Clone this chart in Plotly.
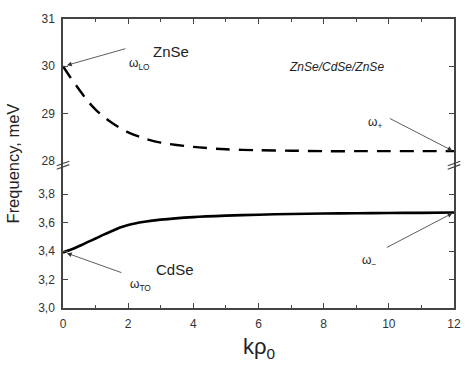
import plotly.graph_objects as go

# data
k_rho = [0, 0.25, 0.5, 0.75, 1, 1.25, 1.5, 1.75, 2, 2.5, 3, 4, 5, 6, 7, 8, 9, 10, 11, 12]
omega_plus = [30.0, 29.74, 29.5, 29.27, 29.08, 28.93, 28.8, 28.69, 28.6, 28.47, 28.38, 28.29, 28.24, 28.22, 28.21, 28.2, 28.2, 28.2, 28.2, 28.2]
omega_minus = [3.39, 3.41, 3.435, 3.462, 3.488, 3.515, 3.54, 3.565, 3.583, 3.605, 3.62, 3.638, 3.648, 3.655, 3.66, 3.663, 3.665, 3.667, 3.668, 3.67]

x_ticks = [0, 2, 4, 6, 8, 10, 12]
top_ticks = [28, 29, 30, 31]
bottom_ticks = [3.0, 3.2, 3.4, 3.6, 3.8]

FONT = "Liberation Sans, Arial, sans-serif"
AX = "#444444"

fig = go.Figure()
fig.add_trace(go.Scatter(x=k_rho, y=omega_plus, xaxis="x2", yaxis="y2", mode="lines",
                         line=dict(color="black", width=2.4, dash="14px,9px", shape="spline", smoothing=0.8),
                         showlegend=False, hoverinfo="skip"))
fig.add_trace(go.Scatter(x=k_rho, y=omega_minus, xaxis="x", yaxis="y", mode="lines",
                         line=dict(color="black", width=2.6, shape="spline", smoothing=0.8),
                         showlegend=False, hoverinfo="skip"))

split = 0.51
common_y = dict(showline=True, linecolor=AX, linewidth=1.5, ticks="inside", ticklen=5,
                tickwidth=1.2, tickcolor=AX, mirror="ticks", showgrid=False, zeroline=False,
                tickfont=dict(family=FONT, size=12, color="#333"), ticklabelstandoff=4)
common_x = dict(range=[0, 12], tickvals=x_ticks, showline=True, linecolor=AX, linewidth=1.5,
                ticks="inside", ticklen=5, tickwidth=1.2, tickcolor=AX,
                minor=dict(ticks="inside", ticklen=3, tickwidth=1, tickcolor=AX, dtick=1, tick0=0),
                showgrid=False, zeroline=False)

fig.update_layout(
    width=473, height=368,
    margin=dict(l=63, r=12, t=14, b=60),
    plot_bgcolor="white", paper_bgcolor="white",
    separators=", ",
    xaxis=dict(anchor="y", tickfont=dict(family=FONT, size=12, color="#333"),
               ticklabelstandoff=4, **common_x),
    xaxis2=dict(anchor="y2", side="top", matches="x", showticklabels=False, **common_x),
    yaxis=dict(domain=[0, split], range=[3.0, 3.0 + 150 / 145], tickvals=bottom_ticks,
               tickformat=".1f", anchor="x", **common_y),
    yaxis2=dict(domain=[split, 1], range=[28, 31], tickvals=top_ticks, anchor="x2", **common_y),
)

# axis titles
fig.add_annotation(text="kρ<sub>0</sub>", xref="paper", yref="paper", x=0.5, y=-0.14,
                   xanchor="center", yanchor="middle", showarrow=False,
                   font=dict(family=FONT, size=22, color="#222"))
fig.add_annotation(text="Frequency, meV", xref="paper", yref="paper", x=-0.128, y=0.5,
                   textangle=-90, xanchor="center", yanchor="middle", showarrow=False,
                   font=dict(family=FONT, size=16.5, color="#222"))

txt = dict(family=FONT, color="#222")
# labels
fig.add_annotation(text="ZnSe", x=3.32, y=30.31, xref="x2", yref="y2", showarrow=False, font=dict(size=15, **txt))
fig.add_annotation(text="ω<sub>LO</sub>", x=2.35, y=30.04, xref="x2", yref="y2", showarrow=False, font=dict(size=12, **txt))
fig.add_annotation(text="<i>ZnSe/CdSe/ZnSe</i>", x=8.38, y=29.98, xref="x2", yref="y2", showarrow=False, font=dict(size=12, **txt))
fig.add_annotation(text="ω<sub>+</sub>", x=9.56, y=28.79, xref="x2", yref="y2", showarrow=False, font=dict(size=12, **txt))
fig.add_annotation(text="CdSe", x=3.44, y=3.27, xref="x", yref="y", showarrow=False, font=dict(size=15, **txt))
fig.add_annotation(text="ω<sub>TO</sub>", x=2.38, y=3.16, xref="x", yref="y", showarrow=False, font=dict(size=12, **txt))
fig.add_annotation(text="ω<sub>−</sub>", x=9.38, y=3.33, xref="x", yref="y", showarrow=False, font=dict(size=12, **txt))

# arrows
arrow = dict(showarrow=True, arrowhead=2, arrowsize=1.2, arrowwidth=0.8, arrowcolor="#333", text="")
fig.add_annotation(x=0.12, y=30.02, xref="x2", yref="y2", ax=60, ay=-17, **arrow)
fig.add_annotation(x=11.95, y=28.21, xref="x2", yref="y2", ax=-64, ay=-33, **arrow)
fig.add_annotation(x=11.95, y=3.665, xref="x", yref="y", ax=-67, ay=35, **arrow)
fig.add_annotation(x=0.12, y=3.385, xref="x", yref="y", ax=56, ay=20, **arrow)

# axis break marks
for xp in (0, 1):
    for dy in (0, 0.012):
        fig.add_shape(type="line", xref="paper", yref="paper",
                      x0=xp - 0.016, x1=xp + 0.016, y0=split - 0.03 + dy, y1=split - 0.014 + dy,
                      line=dict(color=AX, width=1.2))

fig.write_html("out.html")
